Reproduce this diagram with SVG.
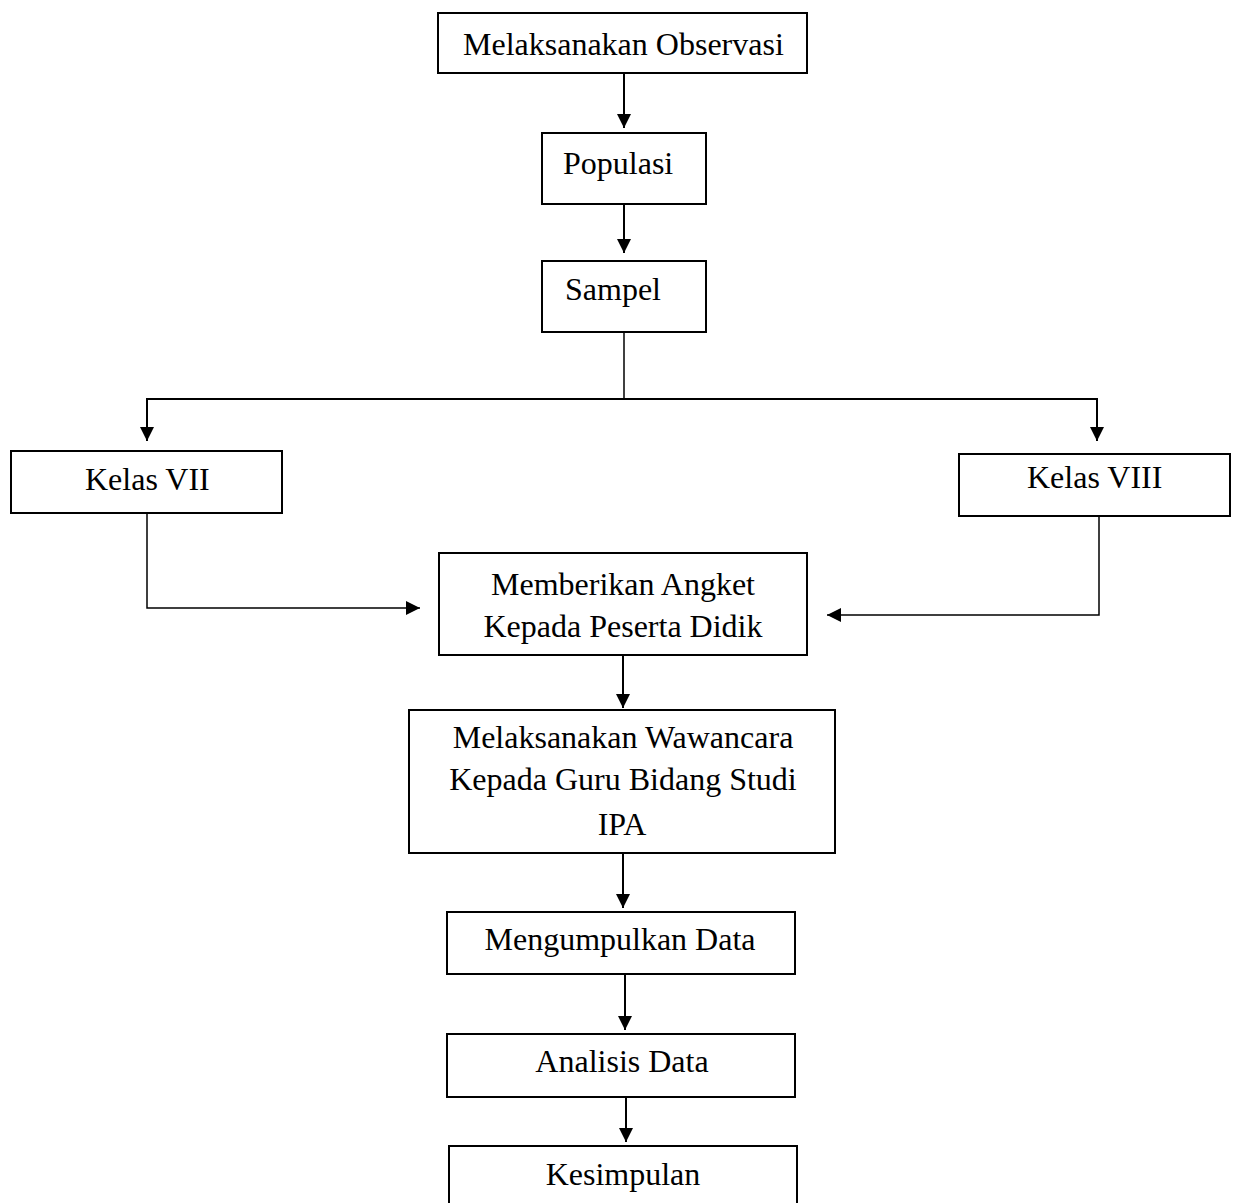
<svg xmlns="http://www.w3.org/2000/svg" width="1238" height="1203" viewBox="0 0 1238 1203">
<style>
.box{fill:#fff;stroke:#000;stroke-width:2}
.t{font-family:"Liberation Serif","Times New Roman",serif;font-size:32px;fill:#000}
.c{fill:none;stroke:#000;stroke-width:2}
.p{fill:none;stroke:#000;stroke-width:1.5}
</style>
<defs>
<marker id="ah" markerUnits="userSpaceOnUse" markerWidth="15" markerHeight="15" refX="14" refY="7" orient="auto">
<path d="M0,0 L14,7 L0,14 z" fill="#000"/>
</marker>
</defs>
<rect width="1238" height="1203" fill="#fff"/>
<g id="connectors">
<line class="c" x1="624" y1="73" x2="624" y2="128" marker-end="url(#ah)"/>
<line class="c" x1="624" y1="204" x2="624" y2="253" marker-end="url(#ah)"/>
<polyline class="p" points="624,332 624,399"/>
<polyline class="c" points="624,399 147,399 147,441" marker-end="url(#ah)"/>
<polyline class="c" points="624,399 1097,399 1097,441" marker-end="url(#ah)"/>
<polyline class="p" points="147,513 147,608 420,608" marker-end="url(#ah)"/>
<polyline class="p" points="1099,516 1099,615 827,615" marker-end="url(#ah)"/>
<line class="c" x1="623" y1="655" x2="623" y2="708" marker-end="url(#ah)"/>
<line class="c" x1="623" y1="853" x2="623" y2="908" marker-end="url(#ah)"/>
<line class="c" x1="625" y1="974" x2="625" y2="1030" marker-end="url(#ah)"/>
<line class="c" x1="626" y1="1092" x2="626" y2="1142" marker-end="url(#ah)"/>
</g>
<g id="n1"><rect class="box" x="438" y="13" width="369" height="60"/><text class="t" x="463" y="55">Melaksanakan Observasi</text></g>
<g id="n2"><rect class="box" x="542" y="133" width="164" height="71"/><text class="t" x="563" y="174">Populasi</text></g>
<g id="n3"><rect class="box" x="542" y="261" width="164" height="71"/><text class="t" x="565" y="300">Sampel</text></g>
<g id="n4"><rect class="box" x="11" y="451" width="271" height="62"/><text class="t" x="85" y="490">Kelas VII</text></g>
<g id="n5"><rect class="box" x="959" y="454" width="271" height="62"/><text class="t" x="1027" y="488">Kelas VIII</text></g>
<g id="n6"><rect class="box" x="439" y="553" width="368" height="102"/><text class="t" x="623" y="595" text-anchor="middle">Memberikan Angket</text><text class="t" x="623" y="637" text-anchor="middle">Kepada Peserta Didik</text></g>
<g id="n7"><rect class="box" x="409" y="710" width="426" height="143"/><text class="t" x="623" y="748" text-anchor="middle">Melaksanakan Wawancara</text><text class="t" x="623" y="790" text-anchor="middle">Kepada Guru Bidang Studi</text><text class="t" x="622" y="835" text-anchor="middle">IPA</text></g>
<g id="n8"><rect class="box" x="447" y="912" width="348" height="62"/><text class="t" x="620" y="950" text-anchor="middle">Mengumpulkan Data</text></g>
<g id="n9"><rect class="box" x="447" y="1034" width="348" height="63"/><text class="t" x="622" y="1072" text-anchor="middle">Analisis Data</text></g>
<g id="n10"><rect class="box" x="449" y="1146" width="348" height="70"/><text class="t" x="623" y="1185" text-anchor="middle">Kesimpulan</text></g>
</svg>
